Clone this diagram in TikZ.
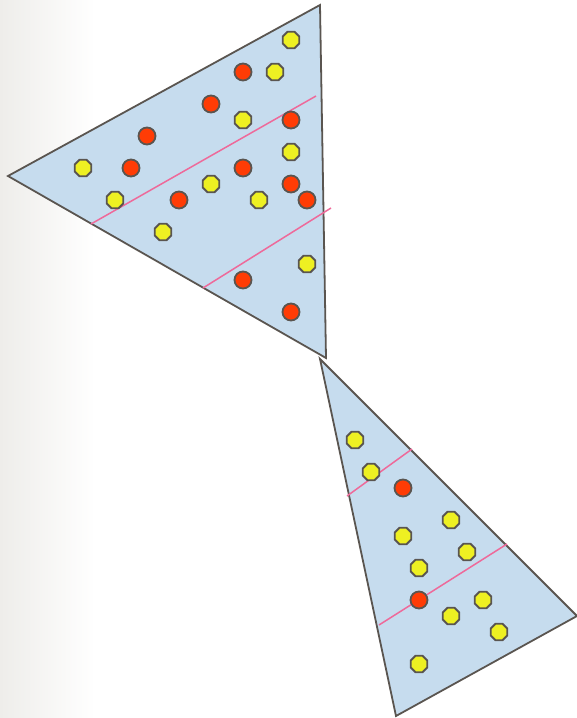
\documentclass[tikz,border=0pt]{standalone}
\usetikzlibrary{shapes.geometric}
\definecolor{edge}{HTML}{5A5550}
\definecolor{tri}{HTML}{C6DCEE}
\definecolor{yel}{HTML}{EEF022}
\definecolor{red}{HTML}{FF3C05}
\definecolor{pink}{HTML}{EE6A9A}
\definecolor{bgl}{HTML}{EEEDEA}
\tikzset{
  trishape/.style={draw=edge, fill=tri, line width=1.8pt, line join=miter},
  ydot/.style={regular polygon, regular polygon sides=8, draw=edge, fill=yel, line width=1.8pt, minimum size=18pt, inner sep=0pt},
  rdot/.style={circle, draw=edge, fill=red, line width=1.8pt, minimum size=17pt, inner sep=0pt},
  divline/.style={draw=pink, line width=1.5pt}
}
\begin{document}
\begin{tikzpicture}[x=1pt,y=-1pt]
\useasboundingbox (0,0) rectangle (577,718);
\fill[left color=bgl, right color=white] (0,0) rectangle (95,718);
% top triangle
\coordinate (A1) at (320,5);
\coordinate (A2) at (8,176);
\coordinate (A3) at (326,358);
\path[trishape] (A1) -- (A2) -- (A3) -- cycle;
% bottom triangle
\coordinate (B1) at (320,359);
\coordinate (B2) at (577,616);
\coordinate (B3) at (396,716);
\path[trishape] (B1) -- (B2) -- (B3) -- cycle;
% dividing lines
\coordinate (p1a) at (91,224); \coordinate (p1b) at (316,96);
\coordinate (p2a) at (203,288); \coordinate (p2b) at (331,208);
\coordinate (q1a) at (347,496); \coordinate (q1b) at (412,449);
\coordinate (q2a) at (379,625); \coordinate (q2b) at (507,544);
\draw[divline] (p1a) -- (p1b);
\draw[divline] (p2a) -- (p2b);
\draw[divline] (q1a) -- (q1b);
\draw[divline] (q2a) -- (q2b);
% top triangle dots
\node[ydot] (y1) at (291,40) {};
\node[ydot] (y2) at (275,72) {};
\node[ydot] (y3) at (243,120) {};
\node[ydot] (y4) at (291,152) {};
\node[ydot] (y5) at (83,168) {};
\node[ydot] (y6) at (115,200) {};
\node[ydot] (y7) at (211,184) {};
\node[ydot] (y8) at (259,200) {};
\node[ydot] (y9) at (163,232) {};
\node[ydot] (y10) at (307,264) {};
\node[rdot] (r1) at (243,72) {};
\node[rdot] (r2) at (211,104) {};
\node[rdot] (r3) at (291,120) {};
\node[rdot] (r4) at (147,136) {};
\node[rdot] (r5) at (131,168) {};
\node[rdot] (r6) at (243,168) {};
\node[rdot] (r7) at (291,184) {};
\node[rdot] (r8) at (179,200) {};
\node[rdot] (r9) at (307,200) {};
\node[rdot] (r10) at (243,280) {};
\node[rdot] (r11) at (291,312) {};
% bottom triangle dots
\node[ydot] (z1) at (355,440) {};
\node[ydot] (z2) at (371,472) {};
\node[ydot] (z3) at (451,520) {};
\node[ydot] (z4) at (403,536) {};
\node[ydot] (z5) at (467,552) {};
\node[ydot] (z6) at (419,568) {};
\node[ydot] (z7) at (483,600) {};
\node[ydot] (z8) at (451,616) {};
\node[ydot] (z9) at (499,632) {};
\node[ydot] (z10) at (419,664) {};
\node[rdot] (s1) at (403,488) {};
\node[rdot] (s2) at (419,600) {};
\end{tikzpicture}
\end{document}
